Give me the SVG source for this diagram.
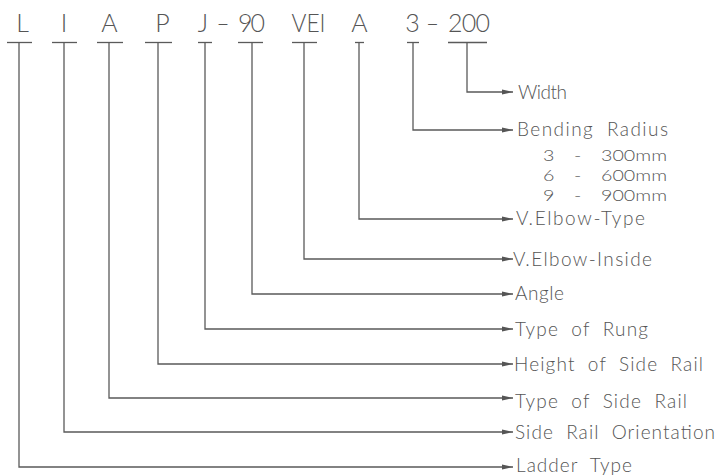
<svg xmlns="http://www.w3.org/2000/svg" width="718" height="476" viewBox="0 0 718 476">
<style>
  .code { font-family: Lato, "Liberation Sans", Arial, sans-serif; font-weight: 300; font-size: 25px; fill: #555; text-anchor: middle; }
  .lbl { font-family: Lato, "Liberation Sans", Arial, sans-serif; font-weight: 300; font-size: 19px; fill: #555; word-spacing: 6px; }
  .sub { font-family: Lato, "Liberation Sans", Arial, sans-serif; font-weight: 300; font-size: 16.5px; fill: #555; word-spacing: 12px; }
  .tick { stroke: #5a5a5a; stroke-width: 1.3; fill: none; }
  .conn { stroke: #5a5a5a; stroke-width: 1.3; fill: none; marker-end: url(#arr); }
</style>
<defs>
  <marker id="arr" markerUnits="userSpaceOnUse" markerWidth="11" markerHeight="6" viewBox="0 0 11 6" refX="11" refY="3" orient="auto">
    <path d="M0,0.6 L11,3 L0,5.4 z" fill="#555"/>
  </marker>
</defs>
<rect width="718" height="476" fill="#fff"/>

<g id="node-L"><text class="code" x="22.5" y="32">L</text><line class="tick" x1="7" y1="42.5" x2="32" y2="42.5"/></g>
<g id="node-I"><text class="code" x="64" y="32">I</text><line class="tick" x1="52" y1="42.5" x2="77" y2="42.5"/></g>
<g id="node-A1"><text class="code" x="109.5" y="32">A</text><line class="tick" x1="97" y1="42.5" x2="123" y2="42.5"/></g>
<g id="node-P"><text class="code" x="162.5" y="32">P</text><line class="tick" x1="145" y1="42.5" x2="172" y2="42.5"/></g>
<g id="node-J"><text class="code" x="203" y="32">J</text><line class="tick" x1="198" y1="42.5" x2="212" y2="42.5"/></g>
<g id="sep-1"><text class="code" x="223" y="32" textLength="14" lengthAdjust="spacingAndGlyphs">-</text></g>
<g id="node-90"><text class="code" x="251.5" y="32" textLength="27">90</text><line class="tick" x1="238" y1="42.5" x2="263" y2="42.5"/></g>
<g id="node-VEI"><text class="code" x="308.5" y="32" textLength="34" lengthAdjust="spacingAndGlyphs">VEI</text><line class="tick" x1="292" y1="42.5" x2="317" y2="42.5"/></g>
<g id="node-A2"><text class="code" x="359.5" y="32">A</text><line class="tick" x1="355" y1="42.5" x2="364" y2="42.5"/></g>
<g id="node-3"><text class="code" x="412.5" y="32">3</text><line class="tick" x1="407" y1="42.5" x2="419" y2="42.5"/></g>
<g id="sep-2"><text class="code" x="432.5" y="32" textLength="14" lengthAdjust="spacingAndGlyphs">-</text></g>
<g id="node-200"><text class="code" x="469" y="32" textLength="42">200</text><line class="tick" x1="448" y1="42.5" x2="487" y2="42.5"/></g>

<g id="connectors">
  <polyline class="conn" points="467,42.5 467,92 513,92"/>
  <polyline class="conn" points="413,42.5 413,130 513,130"/>
  <polyline class="conn" points="359,42.5 359,219 513,219"/>
  <polyline class="conn" points="304,42.5 304,259 513,259"/>
  <polyline class="conn" points="252,42.5 252,294 513,294"/>
  <polyline class="conn" points="205,42.5 205,329 513,329"/>
  <polyline class="conn" points="158,42.5 158,364 513,364"/>
  <polyline class="conn" points="109,42.5 109,398 513,398"/>
  <polyline class="conn" points="64,42.5 64,432 513,432"/>
  <polyline class="conn" points="19,42.5 19,467 513,467"/>
</g>

<g id="label-width"><text class="lbl" x="518" y="99" textLength="49">Width</text></g>
<g id="label-bending">
  <text class="lbl" x="517" y="136" textLength="151">Bending Radius</text>
  <text class="sub" x="543" y="160.5" textLength="124" lengthAdjust="spacingAndGlyphs">3 - 300mm</text>
  <text class="sub" x="543" y="180.5" textLength="124" lengthAdjust="spacingAndGlyphs">6 - 600mm</text>
  <text class="sub" x="543" y="200.5" textLength="124" lengthAdjust="spacingAndGlyphs">9 - 900mm</text>
</g>
<g id="label-velbow-type"><text class="lbl" x="516" y="225" textLength="129">V.Elbow-Type</text></g>
<g id="label-velbow-inside"><text class="lbl" x="513" y="266" textLength="139">V.Elbow-Inside</text></g>
<g id="label-angle"><text class="lbl" x="515" y="300" textLength="49">Angle</text></g>
<g id="label-rung"><text class="lbl" x="515" y="336" textLength="133">Type of Rung</text></g>
<g id="label-height"><text class="lbl" x="514" y="371" textLength="189">Height of Side Rail</text></g>
<g id="label-siderail-type"><text class="lbl" x="515" y="408" textLength="172">Type of Side Rail</text></g>
<g id="label-orientation"><text class="lbl" x="515" y="439" textLength="200">Side Rail Orientation</text></g>
<g id="label-ladder"><text class="lbl" x="516" y="471.5" textLength="116">Ladder Type</text></g>
</svg>
